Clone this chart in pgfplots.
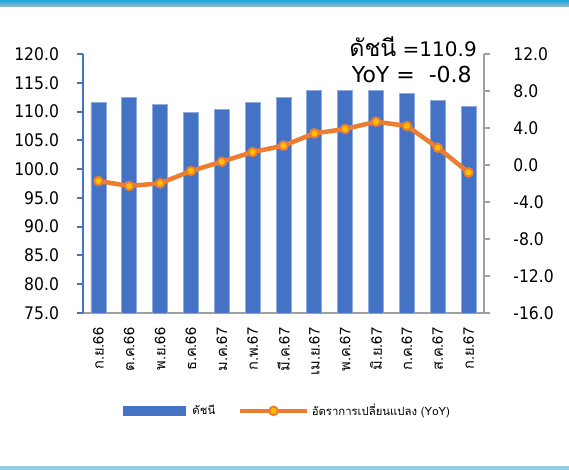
\documentclass[border=0pt]{standalone}
\usepackage{fontspec}
\usepackage{pgfplots}
\pgfplotsset{compat=1.18}
\setmainfont{DejaVu Sans Condensed}
\newfontfamily\thai[Script=Thai]{Loma}
\newfontfamily\wide{DejaVu Sans}
\definecolor{barblue}{HTML}{4472C4}
\definecolor{baredge}{HTML}{8FAADC}
\definecolor{lineorange}{HTML}{ED7D31}
\definecolor{markyellow}{HTML}{FFC000}
\definecolor{axgray}{HTML}{A0A0A0}
\definecolor{topcyan}{HTML}{1FA3DC}
\definecolor{topgray}{HTML}{9DBCC8}
\definecolor{botband}{HTML}{96CDE0}
\pgfplotsset{
  mylegline/.style={legend image code/.code={\draw[##1, mark repeat=2, mark phase=2] plot coordinates {(0pt,0pt)(25pt,0pt)(50pt,0pt)};}},
  mylegbar/.style={legend image code/.code={\fill[barblue] (0pt,-3.4pt) rectangle (46.5pt,3.4pt);}},
}
\begin{document}
\begin{tikzpicture}
\useasboundingbox (0pt,0pt) rectangle (426.75pt,352.5pt);
\shade[top color=topcyan, bottom color=topgray] (0pt,347.25pt) rectangle (426.75pt,352.5pt);
\fill[botband] (0pt,0pt) rectangle (426.75pt,3.3pt);
\begin{axis}[
  at={(62.25pt,117.75pt)}, anchor=south west,
  scale only axis, width=300.75pt, height=194.25pt,
  xmin=-0.5, xmax=12.5, ymin=75, ymax=120,
  axis x line*=bottom, axis y line*=left,
  axis line style={-},
  x axis line style={draw=axgray, line width=1.2pt},
  y axis line style={draw=barblue, line width=1.5pt},
  xtick={0,...,12},
  xticklabels={ก.ย.66,ต.ค.66,พ.ย.66,ธ.ค.66,ม.ค.67,ก.พ.67,มี.ค.67,เม.ย.67,พ.ค.67,มิ.ย.67,ก.ค.67,ส.ค.67,ก.ย.67},
  x tick label style={rotate=90, anchor=east, font=\thai\fontsize{11}{12}\selectfont},
  xticklabel shift=3pt,
  xtick style={draw=none},
  ytick={75,80,...,120},
  tick align=outside,
  major tick length=4.5pt,
  ytick style={draw=barblue, line width=1.5pt},
  yticklabel style={font=\fontsize{13}{15}\selectfont, xshift=-10pt},
  yticklabel={\pgfmathprintnumber[fixed,fixed zerofill,precision=1,assume math mode=true]{\tick}},
  ybar, bar width=11.25pt,
]
\addplot[fill=barblue, draw=baredge, line width=0.6pt, bar shift=0pt] coordinates {
(0,111.6) (1,112.4) (2,111.2) (3,109.9) (4,110.3) (5,111.6) (6,112.4)
(7,113.6) (8,113.6) (9,113.6) (10,113.2) (11,112.0) (12,110.9)};
\end{axis}
\begin{axis}[
  at={(62.25pt,117.75pt)}, anchor=south west,
  scale only axis, width=300.75pt, height=194.25pt,
  xmin=-0.5, xmax=12.5, ymin=-16, ymax=12,
  axis x line=none, axis y line*=right,
  axis line style={-},
  y axis line style={draw=axgray, line width=1.2pt},
  ytick={-16,-12,...,12},
  tick align=outside,
  major tick length=4.5pt,
  ytick style={draw=axgray, line width=1.2pt},
  yticklabel style={font=\fontsize{13}{15}\selectfont, anchor=west, xshift=14pt},
  yticklabel={\pgfmathprintnumber[fixed,fixed zerofill,precision=1,assume math mode=true]{\tick}},
  legend style={at={(axis description cs:0.0998,-0.378)}, anchor=west, draw=none, fill=none,
    inner sep=0pt, font=\thai\fontsize{8.5}{10}\selectfont,
    /tikz/every even column/.append style={column sep=15pt}},
  legend columns=2,
  legend cell align=left,
]
\addlegendimage{mylegbar}
\addlegendentry{\hspace{3pt}ดัชนี}
\addplot[lineorange, line width=3.4pt, mark=*, mark size=3.2pt,
  mark options={fill=markyellow, draw=lineorange, line width=1.5pt}, mylegline]
coordinates {
(0,-1.73) (1,-2.27) (2,-1.98) (3,-0.65) (4,0.36) (5,1.40) (6,2.09)
(7,3.42) (8,3.89) (9,4.68) (10,4.22) (11,1.87) (12,-0.8)};
\addlegendentry{อัตราการเปลี่ยนแปลง (YoY)}
\end{axis}
\node[anchor=base east, font=\wide\fontsize{15}{17}\selectfont, inner sep=0pt] at (357.75pt,309.75pt) {{\thai\fontsize{17.5}{18}\selectfont ดัชนี} =110.9};
\node[anchor=base east, font=\wide\fontsize{16.5}{18}\selectfont, inner sep=0pt] at (354pt,290.25pt) {YoY =\ \ -0.8};
\end{tikzpicture}
\end{document}
